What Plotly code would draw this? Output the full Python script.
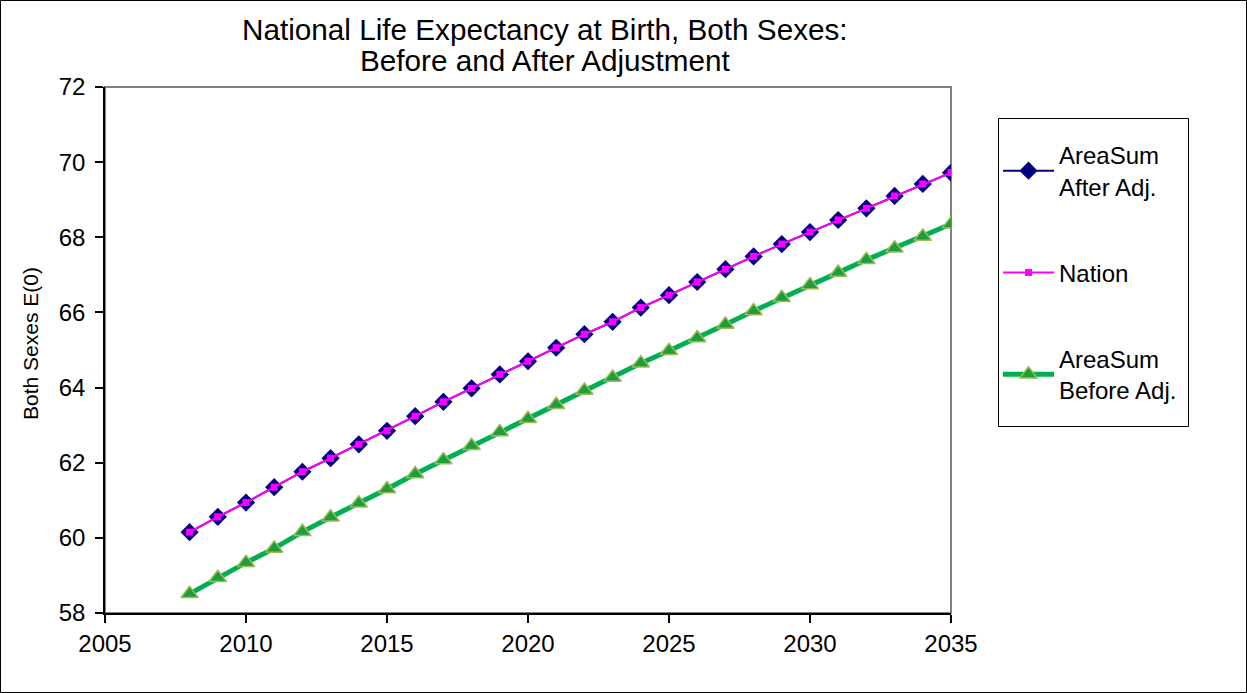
import plotly.graph_objects as go

# Life expectancy at birth, both sexes, by projection year
years = list(range(2008, 2036))

areasum_after = [60.15, 60.56, 60.94, 61.35, 61.76, 62.12, 62.49, 62.85, 63.24, 63.62,
                 63.98, 64.35, 64.70, 65.06, 65.42, 65.75, 66.13, 66.46, 66.81, 67.15,
                 67.49, 67.82, 68.14, 68.46, 68.77, 69.10, 69.42, 69.72]

nation = [60.15, 60.56, 60.94, 61.35, 61.76, 62.12, 62.49, 62.85, 63.24, 63.62,
          63.98, 64.35, 64.70, 65.06, 65.42, 65.75, 66.13, 66.46, 66.81, 67.15,
          67.49, 67.82, 68.14, 68.46, 68.77, 69.10, 69.42, 69.72]

areasum_before = [58.51, 58.94, 59.34, 59.72, 60.16, 60.55, 60.92, 61.30, 61.70, 62.07,
                  62.45, 62.82, 63.17, 63.54, 63.92, 64.27, 64.65, 64.98, 65.32, 65.68,
                  66.04, 66.39, 66.73, 67.06, 67.40, 67.71, 68.02, 68.35]

x_ticks = [2005, 2010, 2015, 2020, 2025, 2030, 2035]
y_ticks = [58, 60, 62, 64, 66, 68, 70, 72]

title_lines = ["National Life Expectancy at Birth, Both Sexes:",
               "Before and After Adjustment"]

FONT = "Liberation Sans, Arial, sans-serif"
W, H = 1247, 693
L, R, T, B = 105, 296, 87, 80
pw, ph = W - L - R, H - T - B


def px_x(p):
    return (p - L) / pw


def px_y(p):
    return (H - B - p) / ph


fig = go.Figure()

fig.add_trace(go.Scatter(
    x=years, y=areasum_after, name="AreaSum<br>After Adj.", mode="lines+markers",
    line=dict(color="#000080", width=2),
    marker=dict(symbol="diamond", size=14, color="#000080"),
    legendgroup="a",
))
fig.add_trace(go.Scatter(
    x=years, y=nation, name="Nation", mode="lines+markers",
    line=dict(color="#FF00FF", width=2),
    marker=dict(symbol="square", size=7, color="#FF00FF"),
    legendgroup="b",
))
fig.add_trace(go.Scatter(
    x=years, y=areasum_before, name="AreaSum<br>Before Adj.", mode="lines+markers",
    line=dict(color="#00B050", width=5),
    marker=dict(symbol="triangle-up", size=15, color="#1E9E3A",
                line=dict(color="#9BBB59", width=1.5)),
    legendgroup="c",
))

# plot-area frame (top/right in grey) and outer chart border
fig.add_shape(type="rect", xref="paper", yref="paper", x0=0, x1=1, y0=0, y1=1,
              line=dict(color="#808080", width=2), layer="below")
fig.add_shape(type="rect", xref="paper", yref="paper",
              x0=px_x(0.5), x1=px_x(W - 0.5), y0=px_y(H - 0.5), y1=px_y(0.5),
              line=dict(color="black", width=1), layer="below")
# legend frame
fig.add_shape(type="rect", xref="paper", yref="paper",
              x0=px_x(998.5), x1=px_x(1188.5), y0=px_y(426.5), y1=px_y(118.5),
              line=dict(color="black", width=1), fillcolor="white", layer="below")

# two-line chart title, one annotation per line for tight line spacing
for i, line in enumerate(title_lines):
    fig.add_annotation(
        text=line, xref="paper", yref="paper",
        x=px_x(545), y=px_y(30 + 30 * i),
        xanchor="center", yanchor="middle", showarrow=False,
        font=dict(family=FONT, size=29.7, color="black"),
    )

fig.add_annotation(
    text="Both Sexes E(0)", textangle=-90,
    xref="paper", yref="paper", x=px_x(30), y=px_y(344),
    xanchor="center", yanchor="middle", showarrow=False,
    font=dict(family=FONT, size=21, color="black"),
)

fig.update_layout(
    width=W, height=H,
    margin=dict(l=L, r=R, t=T, b=B),
    paper_bgcolor="white", plot_bgcolor="white",
    font=dict(family=FONT, color="black", size=24),
    showlegend=True,
    legend=dict(
        x=px_x(998), xanchor="left", y=px_y(133), yanchor="top",
        borderwidth=0, bgcolor="rgba(0,0,0,0)",
        font=dict(family=FONT, size=24, color="black"),
        tracegroupgap=52, itemwidth=51,
    ),
)

fig.update_xaxes(
    range=[2005, 2035], tickvals=x_ticks, ticktext=[str(v) for v in x_ticks],
    showgrid=False, zeroline=False,
    showline=True, linecolor="black", linewidth=1.5,
    ticks="outside", ticklen=8, tickcolor="black", tickwidth=1.5,
    tickfont=dict(family=FONT, size=24),
)
fig.update_yaxes(
    range=[58, 72], tickvals=y_ticks, ticktext=[str(v) for v in y_ticks],
    showgrid=False, zeroline=False,
    showline=True, linecolor="black", linewidth=1.5,
    ticks="outside", ticklen=8, tickcolor="black", tickwidth=1.5,
    tickfont=dict(family=FONT, size=24), ticklabelstandoff=5,
)

fig.write_html("out.html")
